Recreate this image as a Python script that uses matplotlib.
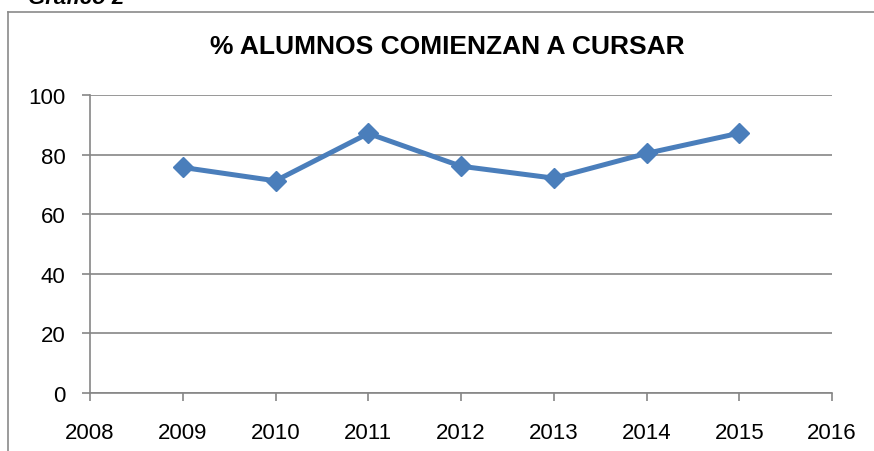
import matplotlib
matplotlib.use("Agg")
import matplotlib.pyplot as plt
from matplotlib.lines import Line2D

years = [2009, 2010, 2011, 2012, 2013, 2014, 2015]
values = [75.7, 71.2, 87.1, 76.1, 72.1, 80.4, 87.2]
x_ticks = [2008, 2009, 2010, 2011, 2012, 2013, 2014, 2015, 2016]
y_ticks = [0, 20, 40, 60, 80, 100]
title = "% ALUMNOS COMIENZAN A CURSAR"
caption = "Gráfico 2"

W, H = 874, 452
fig = plt.figure(figsize=(W / 100, H / 100), dpi=100)
fig.patch.set_facecolor("white")

fam = ["Liberation Sans", "DejaVu Sans"]

ax = fig.add_axes([90 / W, 1 - 394 / H, (832 - 90) / W, (394 - 96) / H])
grid_c = "#868686"
ax.plot(years, values, color="#4A7EBB", lw=3.6, marker="D", ms=10,
        mfc="#4A7EBB", mec="#4A7EBB", mew=1, solid_joinstyle="miter", zorder=3, clip_on=False)
ax.set_xlim(2008, 2016)
ax.set_ylim(0, 100)
ax.set_xticks(x_ticks)
ax.set_yticks(y_ticks)
ax.set_xticklabels([str(v) for v in x_ticks], fontfamily=fam, fontsize=16)
ax.set_yticklabels([str(v) for v in y_ticks], fontfamily=fam, fontsize=16)
ax.yaxis.grid(True, color=grid_c, lw=1.2)
ax.set_axisbelow(True)
for s in ["top", "right"]:
    ax.spines[s].set_visible(False)
for s in ["left", "bottom"]:
    ax.spines[s].set_color(grid_c)
    ax.spines[s].set_linewidth(1.2)
ax.tick_params(axis="both", direction="out", length=5.8, width=1.2, color=grid_c, labelcolor="black")
ax.tick_params(axis="y", pad=12)
ax.tick_params(axis="x", pad=15)

fig.text(447 / W, 1 - 47.5 / H, title, ha="center", va="center",
         fontfamily=fam, fontweight="bold", fontsize=19)

fig.text(124 / W, 1 - 4.5 / H, caption, ha="right", va="baseline",
         fontfamily=fam, fontweight="bold", fontstyle="italic", fontsize=16)

# outer chart border (cropped on right and bottom)
fig.add_artist(Line2D([8 / W, 8 / W], [0, 1 - 12.5 / H], color="#8A8A8A", lw=1.2, transform=fig.transFigure))
fig.add_artist(Line2D([8 / W, 1], [1 - 12.5 / H, 1 - 12.5 / H], color="#8A8A8A", lw=1.2, transform=fig.transFigure))

fig.savefig("out.png", dpi=100, facecolor="white")
